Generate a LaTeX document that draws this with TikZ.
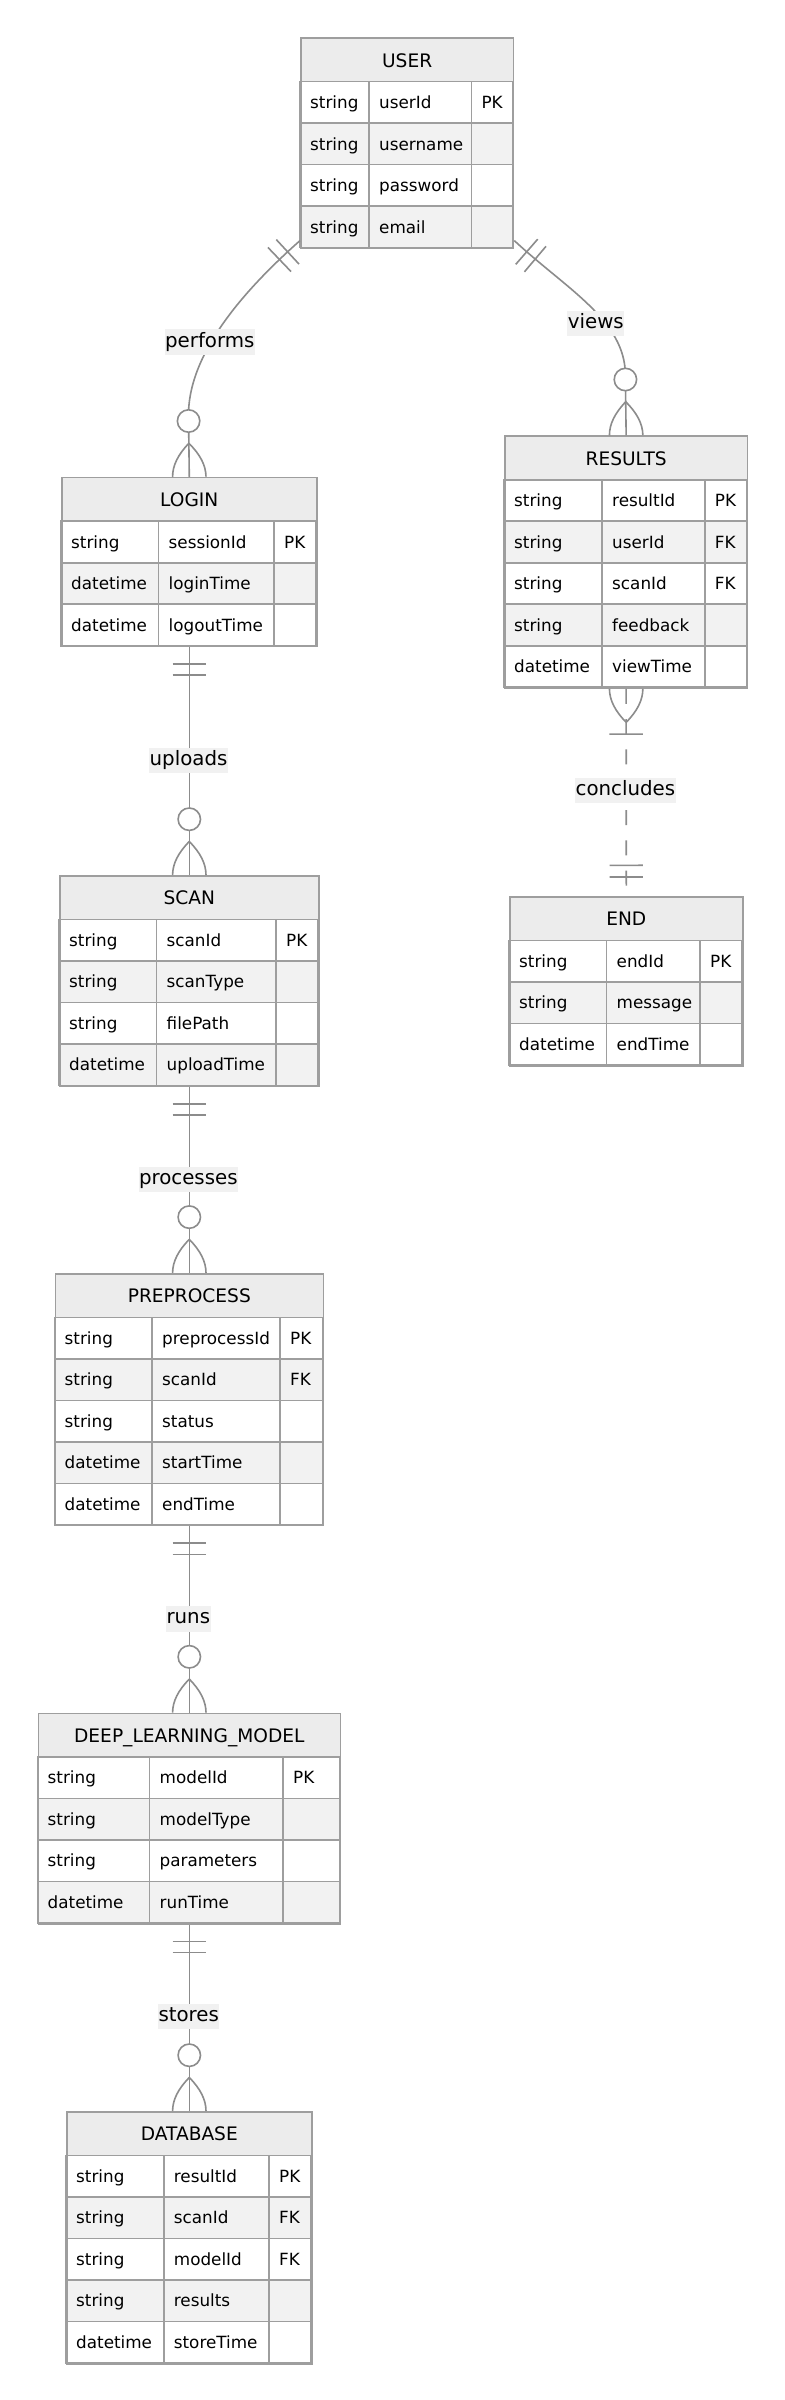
\documentclass[tikz,border=0pt]{standalone}
\usepackage{fontspec}
\setmainfont{DejaVu Sans}
\usetikzlibrary{decorations.markings}

\definecolor{boxline}{HTML}{9E9E9E}
\definecolor{headgray}{HTML}{ECECEC}
\definecolor{rowgray}{HTML}{F2F2F2}
\definecolor{edgegray}{HTML}{8C8C8C}
\definecolor{lblgray}{HTML}{F1F1F1}

\tikzset{
  tbl/.style={draw=boxline, line width=1.6pt, inner sep=0pt},
  cellline/.style={draw=boxline, line width=1.6pt},
  headcell/.style={draw=boxline, line width=1.6pt, fill=headgray, inner sep=0pt,
    minimum height=44.4pt, text height=13.6pt, text depth=0pt, font=\fontsize{18.6}{22}\selectfont},
  celltxt/.style={anchor=west, inner sep=0pt, text height=12.3pt, text depth=0pt,
    font=\fontsize{16.8}{20}\selectfont},
  rel/.style={draw=edgegray, line width=1.6pt},
  mk/.style={draw=edgegray, line width=1.6pt, solid},
  lbl/.style={fill=lblgray, inner xsep=0.5pt, inner ysep=0pt, minimum height=25.5pt,
    text height=14.4pt, text depth=4.5pt, font=\fontsize{19.8}{24}\selectfont},
  oneone/.style={postaction={decorate, decoration={markings,
    mark=at position 16.7pt with {\draw[mk] (0pt,-16.7pt) -- (0pt,16.7pt);},
    mark=at position 27.9pt with {\draw[mk] (0pt,-16.7pt) -- (0pt,16.7pt);}}}},
  oneonefar/.style={postaction={decorate, decoration={markings,
    mark=at position -19pt with {\draw[mk] (0pt,-16.7pt) -- (0pt,16.7pt);},
    mark=at position -30.7pt with {\draw[mk] (0pt,-16.7pt) -- (0pt,16.7pt);}}}},
  zeromany/.style={postaction={decorate, decoration={markings,
    mark=at position -55.8pt with {\draw[mk, fill=white] (0pt,0pt) circle (11.2pt);},
    mark=at position -33.5pt with {\draw[mk] (0pt,0pt) .. controls (11.2pt,11.1pt) and (22.3pt,16.7pt) .. (33.5pt,16.7pt)
      (0pt,0pt) .. controls (11.2pt,-11.1pt) and (22.3pt,-16.7pt) .. (33.5pt,-16.7pt);}}}},
  onemany/.style={postaction={decorate, decoration={markings,
    mark=at position 33.5pt with {\draw[mk] (0pt,0pt) .. controls (-11.2pt,11.1pt) and (-22.3pt,16.7pt) .. (-33.5pt,16.7pt)
      (0pt,0pt) .. controls (-11.2pt,-11.1pt) and (-22.3pt,-16.7pt) .. (-33.5pt,-16.7pt);},
    mark=at position 45.3pt with {\draw[mk] (0pt,-16.7pt) -- (0pt,16.7pt);}}}},
}

% #1 name, #2 title, #3 left, #4 top, #5-#7 column widths, #8 rows, #9 type/name/key list
\newcommand{\ertable}[9]{%
  \pgfmathsetmacro\tabw{#5+#6+#7}
  \pgfmathsetmacro\tabh{44.4+41.5*#8}
  \node[headcell, minimum width=\tabw pt, anchor=north west] (#1h) at (#3,#4) {#2};
  \foreach \ty/\nm/\ky [count=\i] in {#9} {
    \ifodd\i \def\rowfill{white}\else\def\rowfill{rowgray}\fi
    \pgfmathsetmacro\ry{#4+44.4+41.5*(\i-1)}
    \draw[cellline, fill=\rowfill] (#3,\ry) rectangle (#3+#5,\ry+41.5);
    \draw[cellline, fill=\rowfill] (#3+#5,\ry) rectangle (#3+#5+#6,\ry+41.5);
    \draw[cellline, fill=\rowfill] (#3+#5+#6,\ry) rectangle (#3+\tabw,\ry+41.5);
    \node[celltxt] (#1t\i) at (#3+10,\ry+20.75) {\ty};
    \node[celltxt] (#1n\i) at (#3+#5+10,\ry+20.75) {\nm};
    \node[celltxt] (#1k\i) at (#3+#5+#6+10,\ry+20.75) {\ky};
  }
  \node[tbl, minimum width=\tabw pt, minimum height=\tabh pt, anchor=north west] (#1) at (#3,#4) {};
}

\begin{document}
\begin{tikzpicture}[x=1pt, y=-1pt]
  \fill[white] (0,0) rectangle (784,2400);
  \useasboundingbox (0,0) rectangle (784,2400);

  \ertable{user}{USER}{300}{37.3}{69}{102.3}{41.4}{4}
    {string/userId/PK, string/username/{}, string/password/{}, string/email/{}}
  \ertable{results}{RESULTS}{504}{435.3}{98}{102.7}{42}{5}
    {string/resultId/PK, string/userId/FK, string/scanId/FK, string/feedback/{}, datetime/viewTime/{}}
  \ertable{login}{LOGIN}{61}{476.8}{97.5}{115.5}{42}{3}
    {string/sessionId/PK, datetime/loginTime/{}, datetime/logoutTime/{}}
  \ertable{scan}{SCAN}{59}{875}{97.5}{119.5}{42}{4}
    {string/scanId/PK, string/scanType/{}, string/filePath/{}, datetime/uploadTime/{}}
  \ertable{end}{END}{509}{896}{97.5}{93.5}{42}{3}
    {string/endId/PK, string/message/{}, datetime/endTime/{}}
  \ertable{preprocess}{PREPROCESS}{54.5}{1272.9}{97.5}{128}{42.5}{5}
    {string/preprocessId/PK, string/scanId/FK, string/status/{}, datetime/startTime/{}, datetime/endTime/{}}
  \ertable{model}{DEEP\_LEARNING\_MODEL}{37.5}{1712.6}{112}{133.5}{56.5}{4}
    {string/modelId/PK, string/modelType/{}, string/parameters/{}, datetime/runTime/{}}
  \ertable{database}{DATABASE}{66}{2111}{97.7}{105.3}{42}{5}
    {string/resultId/PK, string/scanId/FK, string/modelId/FK, string/results/{}, datetime/storeTime/{}}

  % relationships
  \draw[rel, oneone, zeromany] ([yshift=8.7pt]user.south west) .. controls (250,285) and (188.5,350) .. (188.5,415) -- (login.north);
  \draw[rel, oneone, zeromany] ([yshift=8.7pt]user.south east) .. controls (565,288) and (625.35,320) .. (625.35,375) -- (results.north);
  \draw[rel, dash pattern=on 15pt off 15.3pt, onemany, oneonefar] (results.south) -- (end.north);
  \draw[rel, oneone, zeromany] (login.south) -- (scan.north);
  \draw[rel, oneone, zeromany] (scan.south) -- (preprocess.north);
  \draw[rel, oneone, zeromany] (preprocess.south) -- (model.north);
  \draw[rel, oneone, zeromany] (model.south) -- (database.north);

  \node[lbl] (lperforms) at (209.8,342.2) {performs};
  \node[lbl] (lviews) at (595.8,323.4) {views};
  \node[lbl] (luploads) at (188.5,760.5) {uploads};
  \node[lbl] (lconcludes) at (625.4,790.3) {concludes};
  \node[lbl] (lprocesses) at (188.3,1179.4) {processes};
  \node[lbl] (lruns) at (188.3,1618.8) {runs};
  \node[lbl] (lstores) at (188.7,2016.7) {stores};
\end{tikzpicture}
\end{document}
